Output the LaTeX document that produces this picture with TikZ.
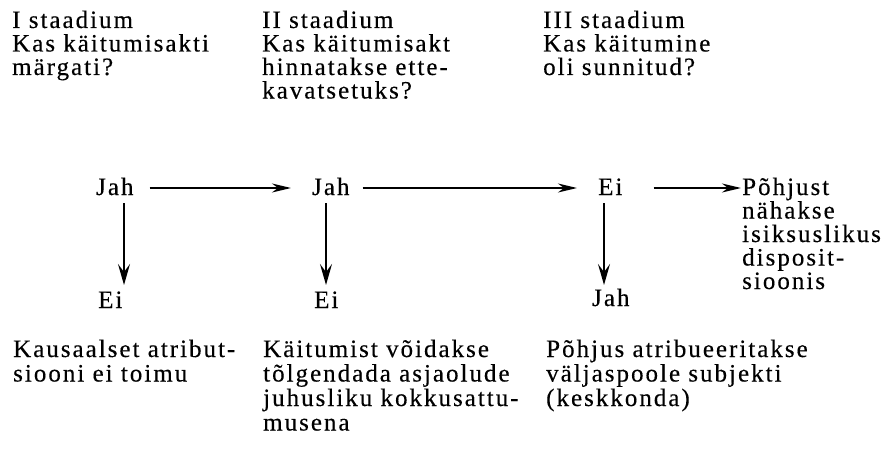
\documentclass[tikz,border=0pt]{standalone}
\usepackage{fontspec}
\setmainfont{Liberation Serif}[LetterSpace=8, FakeBold=0.3]
\usetikzlibrary{arrows.meta}
% stacked lines; the box sits on the baseline of its first line
\newcommand\stk[2][23.5pt]{\vtop{\baselineskip=#1\lineskiplimit=-100pt\halign{##\hfil\cr#2\crcr}}}
\tikzset{
  txt/.style={inner sep=0pt, anchor=base west, font=\fontsize{25}{23.5}\selectfont},
  harrow/.style={line width=1.3pt, -{Stealth[length=19pt, width=9pt, inset=6pt]}},
  varrow/.style={line width=1.4pt, -{Stealth[length=21pt, width=12pt, inset=8pt]}},
}
\begin{document}
\begin{tikzpicture}[x=1pt, y=-1pt]
\useasboundingbox (0,0) rectangle (896,452);

% stage headings
\node[txt] (s1) at (12,28) {\stk{I staadium\cr Kas käitumisakti\cr märgati?}};
\node[txt] (s2) at (262,28) {\stk{II staadium\cr Kas käitumisakt\cr hinnatakse ette-\cr kavatsetuks?}};
\node[txt] (s3) at (543,28) {\stk{III staadium\cr Kas käitumine\cr oli sunnitud?}};

% answers on the main line
\node[txt] (j1) at (96,195) {Jah};
\node[txt] (j2) at (312,195) {Jah};
\node[txt] (e3) at (598,195) {Ei};
\node[txt] (p) at (742,195) {\stk{Põhjust\cr nähakse\cr isiksuslikus\cr disposit-\cr sioonis}};

% answers leaving the main line
\node[txt] (b1) at (98,308) {Ei};
\node[txt] (b2) at (314,308) {Ei};
\node[txt] (b3) at (592,306) {Jah};

% outcomes
\node[txt] (d1) at (13,357) {\stk[24.5pt]{Kausaalset atribut-\cr siooni ei toimu}};
\node[txt] (d2) at (263,357) {\stk[24.5pt]{Käitumist võidakse\cr tõlgendada asjaolude\cr juhusliku kokkusattu-\cr musena}};
\node[txt] (d3) at (546,357) {\stk[24.5pt]{Põhjus atribueeritakse\cr väljaspoole subjekti\cr (keskkonda)}};

% horizontal connectors
\draw[harrow, shorten <=16pt, shorten >=21pt] ([yshift=7pt]j1.base east) -- ([yshift=7pt]j2.base west);
\draw[harrow, shorten <=13pt, shorten >=21pt] ([yshift=7pt]j2.base east) -- ([yshift=7pt]e3.base west);
\draw[harrow, shorten <=31pt, shorten >=1pt] ([yshift=7pt]e3.base east) -- ([yshift=7pt]p.base west);

% vertical connectors
\draw[varrow] ([xshift=28pt,yshift=-8pt]j1.base west) -- ([xshift=26pt,yshift=23pt]b1.base west);
\draw[varrow] ([xshift=14pt,yshift=-8pt]j2.base west) -- ([xshift=12pt,yshift=23pt]b2.base west);
\draw[varrow] ([xshift=6pt,yshift=-8pt]e3.base west) -- ([xshift=12pt,yshift=21pt]b3.base west);
\end{tikzpicture}
\end{document}
